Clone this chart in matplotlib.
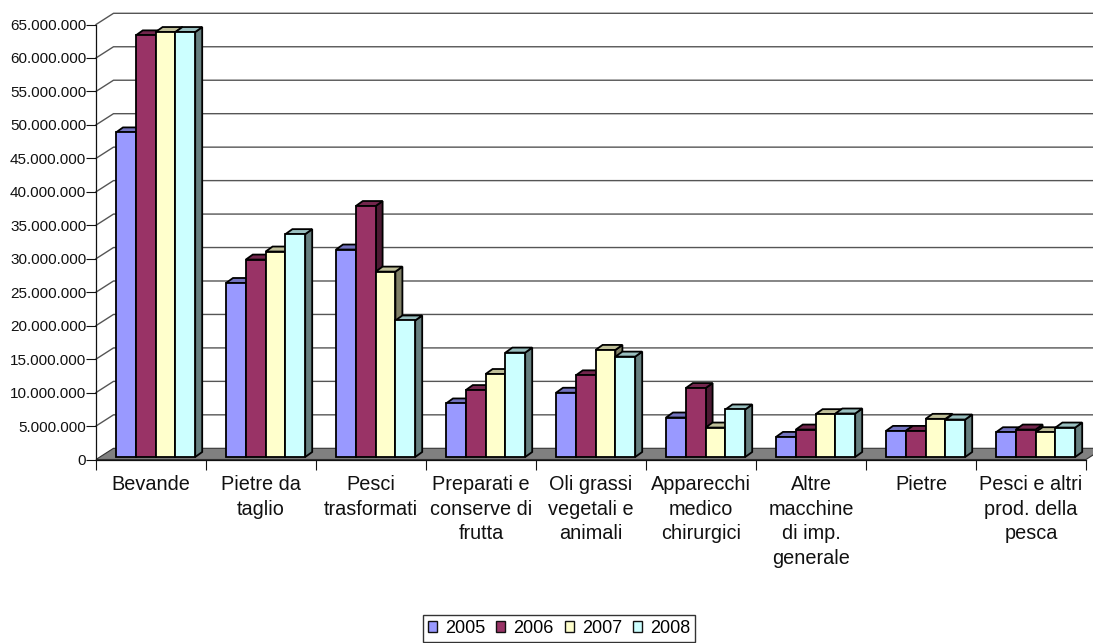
import matplotlib
matplotlib.use("Agg")
import matplotlib.pyplot as plt
from matplotlib.patches import Patch
from matplotlib.ticker import FuncFormatter

plt.rcParams["font.family"] = ["Liberation Sans", "DejaVu Sans"]

categories = [
    "Bevande",
    "Pietre da\ntaglio",
    "Pesci\ntrasformati",
    "Preparati e\nconserve di\nfrutta",
    "Oli grassi\nvegetali e\nanimali",
    "Apparecchi\nmedico\nchirurgici",
    "Altre\nmacchine\ndi imp.\ngenerale",
    "Pietre",
    "Pesci e altri\nprod. della\npesca",
]
years = ["2005", "2006", "2007", "2008"]
values_2005 = [48.5e6, 26.0e6, 31.0e6, 8.0e6, 9.6e6, 5.9e6, 3.0e6, 3.9e6, 3.7e6]
values_2006 = [63.0e6, 29.5e6, 37.5e6, 10.0e6, 12.2e6, 10.3e6, 4.1e6, 3.9e6, 4.1e6]
values_2007 = [63.5e6, 30.7e6, 27.7e6, 12.4e6, 16.0e6, 4.4e6, 6.4e6, 5.7e6, 3.7e6]
values_2008 = [63.5e6, 33.3e6, 20.4e6, 15.6e6, 15.0e6, 7.1e6, 6.5e6, 5.6e6, 4.4e6]
series = [values_2005, values_2006, values_2007, values_2008]

front_colors = ["#9999ff", "#993366", "#ffffcc", "#ccffff"]
top_colors = ["#7373bf", "#73264d", "#bfbf99", "#99bfbf"]
side_colors = ["#66668a", "#4d1a33", "#808066", "#668080"]

W, H = 1093, 643
y_max = 65e6
fig = plt.figure(figsize=(W / 100, H / 100), dpi=100)
ax = fig.add_axes([96 / W, 1 - 459.5 / H, 990 / W, 435 / H])
ax.set_xlim(0, 9)
ax.set_ylim(0, y_max)

# depth offsets are given in pixels, these turn them into data units
px_x = 9 / 990
px_y = y_max / 435
wall_dx, wall_dy = 17.5 * px_x, 11.2 * px_y
bar_dx, bar_dy = 7 * px_x, 5 * px_y
bar_w = 19.8 * px_x
bar_off = 20 * px_x
bar_base = 2.5 * px_y
edge = "#000000"

# floor
ax.fill([0, 9, 9 + wall_dx, wall_dx], [0, 0, wall_dy, wall_dy],
        color="#808080", ec="#333333", lw=0.8, clip_on=False, zorder=1)

# walls with gridlines
for v in range(5000000, 65000001, 5000000):
    ax.plot([0, wall_dx, 9 + wall_dx], [v, v + wall_dy, v + wall_dy],
            color="#555555", lw=1.0, clip_on=False, zorder=1)

for j, vals in enumerate(series):
    for i, v in enumerate(vals):
        x0 = i + bar_off + j * bar_w
        x1 = x0 + bar_w
        y0 = bar_base
        y1 = bar_base + v
        ax.fill([x1, x1 + bar_dx, x1 + bar_dx, x1],
                [y0, y0 + bar_dy, y1 + bar_dy, y1],
                fc=side_colors[j], ec=edge, lw=1.3, clip_on=False, zorder=3)
        ax.fill([x0, x1, x1 + bar_dx, x0 + bar_dx],
                [y1, y1, y1 + bar_dy, y1 + bar_dy],
                fc=top_colors[j], ec=edge, lw=1.3, clip_on=False, zorder=3)
        ax.bar(x0, v, bar_w, bottom=y0, align="edge", color=front_colors[j],
               ec=edge, lw=1.3, clip_on=False, zorder=3)

for name in ["top", "right"]:
    ax.spines[name].set_visible(False)
for name in ["left", "bottom"]:
    ax.spines[name].set_color("#111111")
    ax.spines[name].set_linewidth(0.9)
    ax.spines[name].set_zorder(4)

ax.set_yticks(range(0, 65000001, 5000000))
ax.yaxis.set_major_formatter(FuncFormatter(lambda v, pos: f"{int(v):,}".replace(",", ".")))
ax.tick_params(axis="y", length=7, width=0.8, pad=0, labelsize=11, colors="#111111")

ax.set_xticks(range(10))
ax.set_xticklabels([])
ax.tick_params(axis="x", length=7, width=0.8, color="#111111")
ax.set_xticks([i + 0.5 for i in range(9)], minor=True)
ax.set_xticklabels(categories, minor=True, fontsize=14.3, linespacing=1.39, color="#111111")
ax.tick_params(axis="x", which="minor", length=0, pad=11)

handles = [Patch(fc=c, ec="#111111", lw=1.0) for c in front_colors]
fig.legend(handles, years, loc="lower left",
           bbox_to_anchor=(423 / W, 1 - 642 / H, 272 / W, 26 / H),
           mode="expand", ncol=4, fontsize=13, fancybox=False, framealpha=1,
           edgecolor="#333333", borderaxespad=0, borderpad=0.28,
           handlelength=0.5, handleheight=0.5, handletextpad=0.45, columnspacing=0.5)

fig.savefig("out.png", dpi=100)
